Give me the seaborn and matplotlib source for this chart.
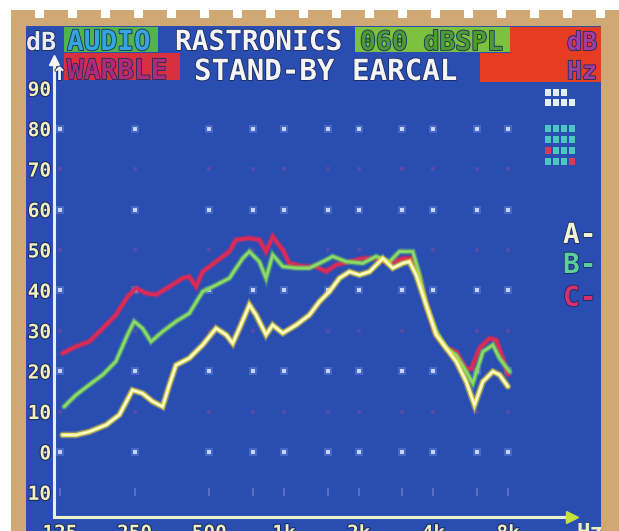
import matplotlib
matplotlib.use("Agg")
import matplotlib.pyplot as plt
import matplotlib.patheffects as pe
from matplotlib.patches import Rectangle
from matplotlib.ticker import NullLocator
import pandas as pd
import seaborn as sns

W, H = 619, 531

# Axis ticks
octave_freqs = [125, 250, 500, 1000, 2000, 4000, 8000]
octave_labels = ["125", "250", "500", "1k", "2k", "4k", "8k"]
grid_freqs = [125, 250, 500, 750, 1000, 1500, 2000, 3000, 4000, 6000, 8000]
db_ticks = [90, 80, 70, 60, 50, 40, 30, 20, 10, 0, -10]
db_labels = ["90", "80", "70", "60", "50", "40", "30", "20", "10", "0", "-10"]

# Trace A (yellow)
freq_a = [128, 145, 164, 192, 217, 245, 269, 295, 324, 345, 367, 415, 470, 532,
          584, 621, 661, 725, 771, 846, 900, 988, 1118, 1265, 1388, 1524, 1671,
          1834, 2013, 2209, 2499, 2741, 3009, 3201, 3405, 3737, 4101, 4500, 4938,
          5419, 5852, 6324, 6940, 7381, 7977]
db_a = [4.2, 4.2, 5.0, 6.7, 9.2, 15.3, 14.5, 12.5, 11.2, 16.6, 21.5, 23.2, 26.5,
        30.6, 29.0, 26.9, 30.6, 36.4, 33.9, 29.0, 31.4, 29.4, 31.4, 33.9, 37.2,
        39.7, 43.0, 44.6, 43.8, 44.6, 47.9, 45.5, 46.7, 47.1, 43.8, 36.4, 29.0,
        25.7, 22.4, 17.4, 11.6, 17.4, 19.9, 19.1, 16.2]

# Trace B (green)
freq_b = [130, 145, 164, 186, 210, 234, 249, 269, 291, 324, 367, 415, 470, 532,
          602, 681, 725, 795, 846, 900, 988, 1118, 1265, 1432, 1571, 1778, 2076,
          2349, 2659, 2918, 3301, 3514, 3737, 4101, 4500, 4938, 5419, 5763, 6324,
          6940, 7381, 8100]
db_b = [11.2, 14.1, 16.6, 19.1, 22.4, 29.0, 32.3, 30.6, 27.3, 29.8, 32.3, 34.3,
        39.7, 41.3, 43.0, 47.9, 49.6, 47.1, 43.0, 48.8, 45.9, 45.5, 45.5, 47.1,
        48.4, 47.1, 46.7, 48.4, 47.1, 49.6, 49.6, 43.8, 36.4, 29.8, 25.7, 24.0,
        19.9, 17.0, 24.8, 26.5, 23.2, 19.9]

# Trace C (red)
freq_c = [128, 145, 164, 186, 210, 234, 253, 278, 305, 345, 390, 415, 442, 470,
          532, 602, 640, 725, 795, 846, 900, 988, 1050, 1189, 1346, 1477, 1620,
          1834, 2076, 2349, 2659, 3009, 3301, 3514, 3737, 4101, 4500, 4938, 5419,
          5673, 6130, 6727, 7155, 7614, 7977]
db_c = [24.4, 26.1, 27.3, 30.6, 33.9, 38.4, 40.5, 39.3, 38.9, 40.9, 43.0, 43.4,
        40.9, 44.6, 47.1, 49.6, 52.5, 52.9, 52.5, 49.6, 53.3, 50.0, 46.7, 45.9,
        45.9, 44.6, 46.3, 47.1, 47.9, 47.9, 46.7, 47.9, 47.9, 43.8, 36.4, 29.0,
        25.7, 24.8, 20.6, 20.5, 25.7, 28.1, 27.7, 23.2, 19.1]

traces = pd.concat([
    pd.DataFrame({"freq": freq_c, "level": db_c, "trace": "C"}),
    pd.DataFrame({"freq": freq_b, "level": db_b, "trace": "B"}),
    pd.DataFrame({"freq": freq_a, "level": db_a, "trace": "A"}),
], ignore_index=True)

BLUE = "#2a4db2"
TAN = "#cfa874"
PALE = "#f0f0bc"

sns.set_theme(style="white")
plt.rcParams["font.family"] = ["DejaVu Sans Mono", "DejaVu Sans"]
plt.rcParams["font.weight"] = "bold"

fig = plt.figure(figsize=(W / 100, H / 100), dpi=100)
fig.patch.set_facecolor("white")


def box(x0, y0, x1, y1, color, z):
    """Rectangle in pixel units measured from the top-left corner."""
    fig.add_artist(Rectangle((x0 / W, 1 - y1 / H), (x1 - x0) / W, (y1 - y0) / H,
                             transform=fig.transFigure, facecolor=color,
                             edgecolor="none", zorder=z))


def label(x, y, s, color, size, ha="left", z=6):
    t = fig.text(x / W, 1 - y / H, s, color=color, fontsize=size, ha=ha,
                 va="baseline", fontweight="bold", zorder=z,
                 family=["DejaVu Sans Mono", "DejaVu Sans"])
    t.set_path_effects([pe.withStroke(linewidth=1.2, foreground="#1a2a60")])
    return t


# Screen background
box(0, 0, W, H, BLUE, -5)

# Header bar
box(64, 27, 158, 52, "#52b44c", 1)
box(355, 27, 510, 52, "#7cc23e", 1)
box(510, 27, 601, 53, "#e63c22", 1)
box(480, 53, 601, 82, "#e63c22", 1)
box(64, 53, 180, 80, "#d8303e", 1)

label(26, 50, "dB", "#e8ecf0", 18)
label(67, 50, "AUDIO", "#34a6dc", 20)
label(175, 50, "RASTRONICS", "#f4f4f4", 20)
label(360, 50, "060 dBSPL", "#4c9c36", 19)
label(597, 50, "dB", "#a43ca0", 18, ha="right")
label(52, 80, "\u2191", "#f4f4f4", 18)
label(67, 79, "WARBLE", "#b02a78", 20)
label(194, 80, "STAND-BY EARCAL", "#f4f4f4", 21)
label(597, 79, "Hz", "#a43ca0", 18, ha="right")

# Small readout cells at the top right
cell_rows = [
    (89, ["#e4ecf4"] * 3),
    (99, ["#e4ecf4"] * 4),
    (125, ["#4cc8c0"] * 4),
    (136, ["#4cc8c0"] * 4),
    (147, ["#d83a5a", "#4cc8c0", "#4cc8c0", "#4cc8c0"]),
    (158, ["#4cc8c0", "#4cc8c0", "#4cc8c0", "#d83a5a"]),
]
for top, colors in cell_rows:
    for j, c in enumerate(colors):
        box(545 + 8 * j, top, 551 + 8 * j, top + 7, c, 6)

# Trace key
label(563, 243, "A-", "#f2f2d4", 20)
label(563, 273, "B-", "#5cd09c", 20)
label(563, 306, "C-", "#d8306c", 20)

# Plot axes
ax = fig.add_axes([54 / W, 1 - 517 / H, (572 - 54) / W, (517 - 60) / H])
ax.patch.set_visible(False)
ax.set_xscale("log", base=2)
ax.set_xlim(118.3, 14460)
ax.set_ylim(-16.1, 97.0)

# Dot grid
even_levels = [80, 60, 40, 20, 0]
odd_levels = [70, 50, 30, 10]
gx = [f for f in grid_freqs for _ in even_levels]
gy = [lv for _ in grid_freqs for lv in even_levels]
ax.scatter(gx, gy, marker="s", s=7, color="#d4e0ff", linewidths=0, zorder=2)
ax.scatter(gx, gy, marker="s", s=30, color="#9fb8ff", alpha=0.25, linewidths=0, zorder=2)
ox = [f for f in grid_freqs for _ in odd_levels]
oy = [lv for _ in grid_freqs for lv in odd_levels]
ax.scatter(ox, oy, marker="s", s=5, color="#7a4aa8", alpha=0.5, linewidths=0, zorder=2)
ax.scatter(grid_freqs, [-10] * len(grid_freqs), marker="|", s=30, color="#8a98d8",
           alpha=0.55, linewidths=1.2, zorder=2)

# Response traces
styles = {
    "C": [("#e02a58", 4.5, 0.35), ("#dc2a56", 2.6, 1.0)],
    "B": [("#5fd07a", 4.5, 0.35), ("#7ccc52", 2.6, 1.0), ("#9ee08a", 0.9, 0.8)],
    "A": [("#e8d630", 4.8, 0.45), ("#f0e46a", 2.8, 1.0), ("#fffde0", 1.1, 1.0)],
}
for key in ["C", "B", "A"]:
    sub = traces[traces["trace"] == key]
    for color, lw, alpha in styles[key]:
        sns.lineplot(data=sub, x="freq", y="level", ax=ax, color=color, lw=lw,
                     alpha=alpha, sort=False, estimator=None, legend=False,
                     zorder=3, solid_joinstyle="miter")

# Axes styling
for side in ["top", "right"]:
    ax.spines[side].set_visible(False)
ax.spines["left"].set_color("#e4f2dc")
ax.spines["left"].set_linewidth(2.2)
ax.spines["bottom"].set_color("#eaf2c8")
ax.spines["bottom"].set_linewidth(2.2)
ax.plot([0], [1.0], marker="^", ms=7, color="#f4f4f4", transform=ax.transAxes,
        clip_on=False, zorder=4)
ax.plot([1.0], [0], marker=">", ms=8, color="#c8e03c", transform=ax.transAxes,
        clip_on=False, zorder=4)
fig.text(576 / W, 1 - 539 / H, "Hz", color=PALE, fontsize=16, fontweight="bold",
         va="baseline", zorder=5)

ax.set_yticks(db_ticks, db_labels)
xt_labels = [octave_labels[octave_freqs.index(f)] if f in octave_freqs else ""
             for f in grid_freqs]
ax.set_xticks(grid_freqs, xt_labels)
ax.xaxis.set_minor_locator(NullLocator())
ax.yaxis.set_minor_locator(NullLocator())
ax.tick_params(axis="y", length=0, pad=2, labelsize=14, labelcolor=PALE)
ax.tick_params(axis="x", direction="in", length=3, width=1.5, color="#b8c8f0",
               pad=5, labelsize=14, labelcolor=PALE)
for t in ax.get_yticklabels() + ax.get_xticklabels():
    t.set_fontweight("bold")
    t.set_path_effects([pe.withStroke(linewidth=1.5, foreground="#1a2a60")])
ax.set_xlabel("")
ax.set_ylabel("")

# Photo mount border
box(0, 0, 11, H, "white", 20)
box(11, 18, 26, H, TAN, 20)
box(601, 18, W, H, TAN, 20)
box(0, 0, W, 10, "white", 20)
box(11, 18, W, 26, TAN, 20)
box(0, 10, W, 18, "white", 20)
for x0 in range(11, W, 33):
    box(x0, 10, x0 + 24, 18, TAN, 21)

fig.savefig("out.png", dpi=100, facecolor=fig.get_facecolor())
